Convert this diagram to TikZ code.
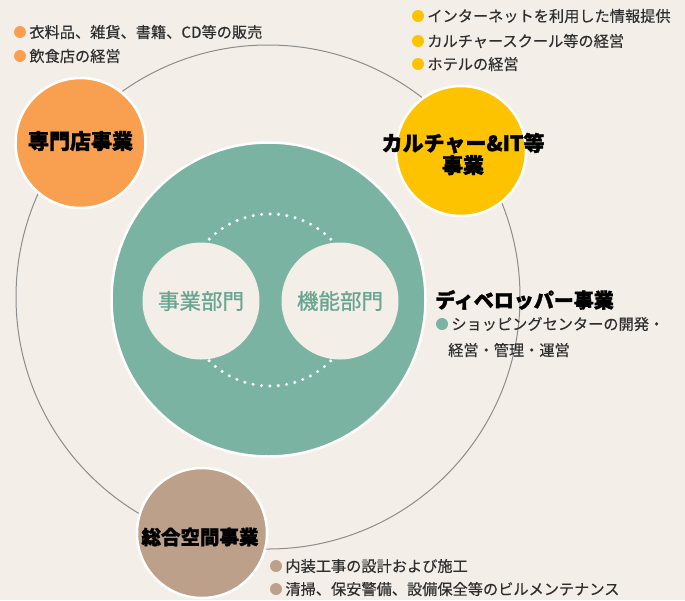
\documentclass[tikz,border=0pt]{standalone}
\usepackage{fontspec}
\setmainfont{Noto Sans CJK JP}[BoldFeatures={FakeBold=1.6}]
\newfontfamily\jpmed{Noto Sans CJK JP}[FakeBold=0.9]
\newfontfamily\jpitem{Noto Sans CJK JP}[FakeBold=0.25]
\definecolor{bg}{HTML}{F3EFE8}
\definecolor{orangec}{HTML}{F9A050}
\definecolor{yellowc}{HTML}{FDC300}
\definecolor{tealc}{HTML}{7AB3A2}
\definecolor{brownc}{HTML}{BCA08A}
\definecolor{ringc}{HTML}{8C8C8C}
\definecolor{txt}{HTML}{2E2E2E}
\definecolor{innertxt}{HTML}{6AA592}
\tikzset{
  bigdisc/.style={circle, draw=white, line width=2.5pt, inner sep=0pt, minimum size=130pt},
  head/.style={font=\fontsize{21}{22}\selectfont\bfseries, text=black, align=center, inner sep=0pt},
  bul/.style={circle, inner sep=0pt, minimum size=12pt},
  itemtext/.style={font=\jpitem\fontsize{15.2}{18}\selectfont, text=txt, anchor=west, inner sep=0pt},
  innerdisc/.style={circle, fill=bg, inner sep=0pt, minimum size=117pt},
  innertext/.style={font=\jpmed\fontsize{21.5}{22}\selectfont, text=innertxt, inner sep=0pt}
}
\begin{document}
\begin{tikzpicture}[x=1pt,y=-1pt]
\fill[bg] (0,0) rectangle (685,600);
\useasboundingbox (0,0) rectangle (685,600);
% outer ring
\draw[ringc, line width=1pt] (268,297) circle (252pt);
% central teal disc
\node[circle, fill=tealc, draw=white, line width=2.5pt, inner sep=0pt, minimum size=314pt] (dev) at (268.5,299.5) {};
% dotted circle
\draw[white, line width=3.4pt, line cap=round, dash pattern=on 0pt off 8.44pt] (270,300) circle (86pt);
\node[innerdisc] (jigyo) at (201,301) {};
\node[innerdisc] (kino) at (340,301) {};
\node[innertext] (jigyoT) at (jigyo) {事業部門};
\node[innertext] (kinoT) at (kino) {機能部門};
% satellite discs
\node[bigdisc, fill=orangec] (sen) at (80.5,143) {};
\node[bigdisc, fill=yellowc] (cul) at (461,151) {};
\node[bigdisc, fill=brownc] (sou) at (202,533) {};
\node[head] (senT) at (80.5,141) {専門店事業};
\node[head] (culT) at (463,154) {カルチャー\&IT等\\事業};
\node[head, font=\fontsize{19.5}{22}\selectfont\bfseries] (souT) at (200,537) {総合空間事業};
\node[head, anchor=west, font=\fontsize{20}{22}\selectfont\bfseries] (devT) at (435,300) {ディベロッパー事業};
% bullets: orange
\node[bul, fill=orangec] (o1) at (20,32) {};
\node[itemtext] (o1T) at ([xshift=3pt]o1.east) {衣料品、雑貨、書籍、CD等の販売};
\node[bul, fill=orangec] (o2) at (20,56) {};
\node[itemtext] (o2T) at ([xshift=3pt]o2.east) {飲食店の経営};
% bullets: yellow
\node[bul, fill=yellowc] (y1) at (418,16) {};
\node[itemtext] (y1T) at ([xshift=3pt]y1.east) {インターネットを利用した情報提供};
\node[bul, fill=yellowc] (y2) at (418,41) {};
\node[itemtext] (y2T) at ([xshift=3pt]y2.east) {カルチャースクール等の経営};
\node[bul, fill=yellowc] (y3) at (418,64) {};
\node[itemtext] (y3T) at ([xshift=3pt]y3.east) {ホテルの経営};
% bullets: teal
\node[bul, fill=tealc] (t1) at (442,324) {};
\node[itemtext] (t1T) at ([xshift=3pt]t1.east) {ショッピングセンターの開発・};
\node[itemtext] (t2T) at (448,350) {経営・管理・運営};
% bullets: brown
\node[bul, fill=brownc] (r1) at (276,566) {};
\node[itemtext] (r1T) at ([xshift=3pt]r1.east) {内装工事の設計および施工};
\node[bul, fill=brownc] (r2) at (276,589) {};
\node[itemtext] (r2T) at ([xshift=3pt]r2.east) {清掃、保安警備、設備保全等のビルメンテナンス};
\end{tikzpicture}
\end{document}
